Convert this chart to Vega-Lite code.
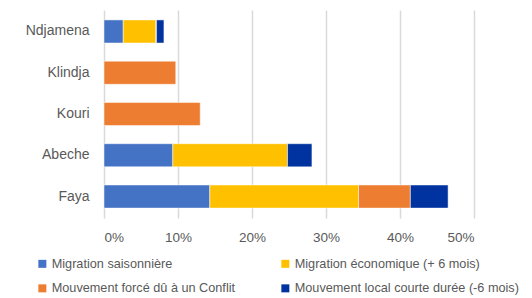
{
  "$schema": "https://vega.github.io/schema/vega-lite/v6.json",
  "width": 370,
  "height": 208,
  "autosize": {"type": "none"},
  "padding": {"left": 104, "top": 10, "right": 58, "bottom": 80},
  "background": "white",
  "config": {
    "view": {"stroke": null},
    "font": "Liberation Sans"
  },
  "data": {
    "values": [
      {"ville": "Ndjamena", "type": "Migration saisonnière", "ord": 1, "val": 0.026},
      {"ville": "Ndjamena", "type": "Migration économique (+ 6 mois)", "ord": 2, "val": 0.044},
      {"ville": "Ndjamena", "type": "Mouvement forcé dû à un Conflit", "ord": 3, "val": 0.001},
      {"ville": "Ndjamena", "type": "Mouvement local courte durée (-6 mois)", "ord": 4, "val": 0.010},
      {"ville": "Klindja", "type": "Mouvement forcé dû à un Conflit", "ord": 3, "val": 0.097},
      {"ville": "Kouri", "type": "Mouvement forcé dû à un Conflit", "ord": 3, "val": 0.130},
      {"ville": "Abeche", "type": "Migration saisonnière", "ord": 1, "val": 0.093},
      {"ville": "Abeche", "type": "Migration économique (+ 6 mois)", "ord": 2, "val": 0.155},
      {"ville": "Abeche", "type": "Mouvement local courte durée (-6 mois)", "ord": 4, "val": 0.033},
      {"ville": "Faya", "type": "Migration saisonnière", "ord": 1, "val": 0.143},
      {"ville": "Faya", "type": "Migration économique (+ 6 mois)", "ord": 2, "val": 0.201},
      {"ville": "Faya", "type": "Mouvement forcé dû à un Conflit", "ord": 3, "val": 0.070},
      {"ville": "Faya", "type": "Mouvement local courte durée (-6 mois)", "ord": 4, "val": 0.051}
    ]
  },
  "mark": {"type": "bar", "stroke": "white", "strokeWidth": 0.5},
  "encoding": {
    "y": {
      "field": "ville",
      "type": "nominal",
      "sort": ["Ndjamena", "Klindja", "Kouri", "Abeche", "Faya"],
      "scale": {"paddingInner": 0.44, "paddingOuter": 0.24},
      "axis": {
        "title": null,
        "ticks": false,
        "domain": false,
        "grid": false,
        "labelFontSize": 14,
        "labelColor": "#595959",
        "labelPadding": 15
      }
    },
    "x": {
      "field": "val",
      "type": "quantitative",
      "stack": "zero",
      "scale": {"domain": [0, 0.5], "nice": false},
      "axis": {
        "title": null,
        "format": ".0%",
        "values": [0, 0.1, 0.2, 0.3, 0.4, 0.5],
        "ticks": false,
        "domain": false,
        "grid": true,
        "gridColor": "#D9D9D9",
        "gridWidth": 1.5,
        "labelFontSize": 13.5,
        "labelColor": "#595959",
        "labelPadding": 12
      }
    },
    "order": {"field": "ord", "type": "quantitative"},
    "color": {
      "field": "type",
      "type": "nominal",
      "scale": {
        "domain": ["Migration saisonnière", "Migration économique (+ 6 mois)", "Mouvement forcé dû à un Conflit", "Mouvement local courte durée (-6 mois)"],
        "range": ["#4472C4", "#FFC000", "#ED7D31", "#0033A0"]
      },
      "legend": {
        "title": null,
        "orient": "none",
        "legendX": -68,
        "legendY": 247,
        "direction": "horizontal",
        "columns": 2,
        "columnPadding": 43,
        "rowPadding": 11,
        "symbolType": "square",
        "symbolSize": 64,
        "symbolStrokeWidth": 0,
        "symbolOffset": 0,
        "labelOffset": 3,
        "labelFontSize": 12.7,
        "labelColor": "#595959",
        "labelLimit": 300,
        "padding": 0
      }
    }
  }
}
